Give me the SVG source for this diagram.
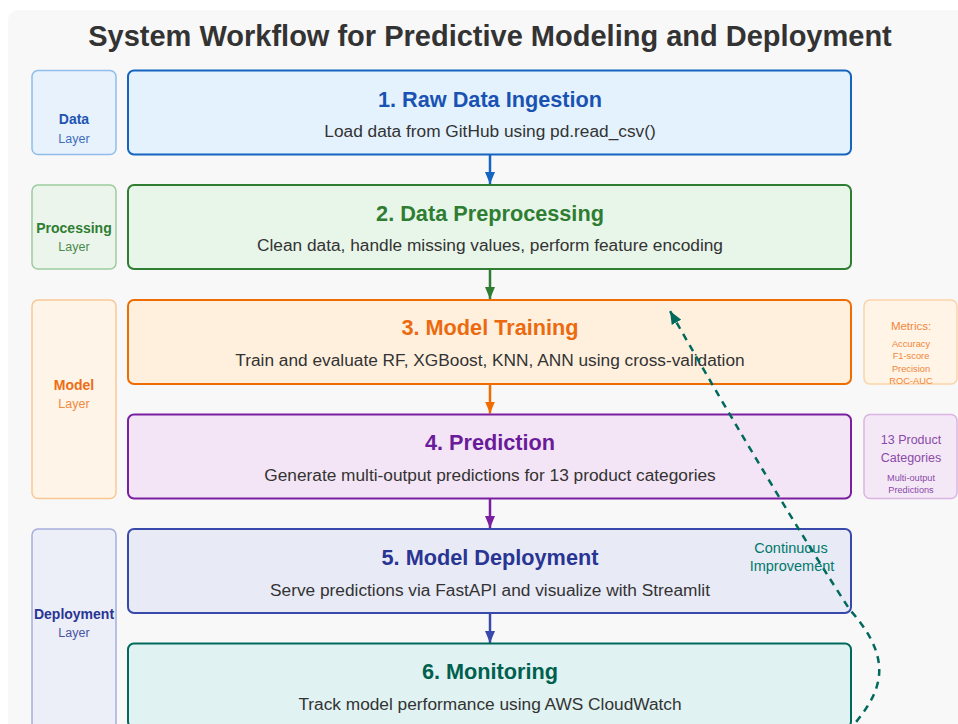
<svg xmlns="http://www.w3.org/2000/svg" width="958" height="724" viewBox="0 0 958 724">
<defs>
<style>
text{font-family:"Liberation Sans",Arial,sans-serif;text-anchor:middle}
.title{font-size:29px;font-weight:bold;fill:#333}
.bt{font-size:21.7px;font-weight:bold}
.bs{font-size:17.3px;fill:#333}
.main{stroke-width:2}
.layer{stroke-width:1.5}
.ln{font-size:14px;font-weight:bold}
.ll{font-size:12.5px}
.side{stroke-width:1.5}
.conn{stroke-width:2.5;fill:none}
</style>
<marker id="mB" viewBox="0 0 12 10" refX="12" refY="5" markerWidth="12" markerHeight="10" markerUnits="userSpaceOnUse" orient="auto"><path d="M0,0 L12,5 L0,10 z" fill="#1565c0"/></marker>
<marker id="mG" viewBox="0 0 12 10" refX="12" refY="5" markerWidth="12" markerHeight="10" markerUnits="userSpaceOnUse" orient="auto"><path d="M0,0 L12,5 L0,10 z" fill="#2e7d32"/></marker>
<marker id="mO" viewBox="0 0 12 10" refX="12" refY="5" markerWidth="12" markerHeight="10" markerUnits="userSpaceOnUse" orient="auto"><path d="M0,0 L12,5 L0,10 z" fill="#ef6c00"/></marker>
<marker id="mP" viewBox="0 0 12 10" refX="12" refY="5" markerWidth="12" markerHeight="10" markerUnits="userSpaceOnUse" orient="auto"><path d="M0,0 L12,5 L0,10 z" fill="#7b1fa2"/></marker>
<marker id="mI" viewBox="0 0 12 10" refX="12" refY="5" markerWidth="12" markerHeight="10" markerUnits="userSpaceOnUse" orient="auto"><path d="M0,0 L12,5 L0,10 z" fill="#3949ab"/></marker>
<marker id="mT" viewBox="0 0 12 10" refX="12" refY="5" markerWidth="13" markerHeight="11" markerUnits="userSpaceOnUse" orient="auto"><path d="M0,0 L12,5 L0,10 z" fill="#00695c"/></marker>
</defs>
<rect x="0" y="0" width="958" height="724" fill="#ffffff"/>
<rect x="8" y="10" width="970" height="740" rx="10" fill="#f8f8f8"/>
<text class="title" x="490" y="46">System Workflow for Predictive Modeling and Deployment</text>

<g id="layer-data">
<rect class="layer" x="32" y="70.5" width="84" height="84" rx="6" fill="#e8f2fd" stroke="#90bde9"/>
<text class="ln" x="74" y="124.3" fill="#1e55b0">Data</text>
<text class="ll" x="74" y="142.7" fill="#3f6fba">Layer</text>
</g>
<g id="layer-processing">
<rect class="layer" x="32" y="185" width="84" height="84" rx="6" fill="#ecf5ec" stroke="#9ccb9e"/>
<text class="ln" x="74" y="233.3" fill="#2e7d32">Processing</text>
<text class="ll" x="74" y="251" fill="#4a8a4d">Layer</text>
</g>
<g id="layer-model">
<rect class="layer" x="32" y="300" width="84" height="198.5" rx="6" fill="#fff4e8" stroke="#f9c795"/>
<text class="ln" x="74" y="390" fill="#ee6d12">Model</text>
<text class="ll" x="74" y="407.7" fill="#f08a40">Layer</text>
</g>
<g id="layer-deployment">
<rect class="layer" x="32" y="529" width="84" height="200" rx="6" fill="#eceef8" stroke="#a7aedc"/>
<text class="ln" x="74" y="619.3" fill="#283593">Deployment</text>
<text class="ll" x="74" y="636.7" fill="#4a55a0">Layer</text>
</g>

<g id="connectors">
<line class="conn" x1="490" y1="155" x2="490" y2="184" stroke="#1565c0" marker-end="url(#mB)"/>
<line class="conn" x1="490" y1="270" x2="490" y2="299" stroke="#2e7d32" marker-end="url(#mG)"/>
<line class="conn" x1="490" y1="385" x2="490" y2="413.5" stroke="#ef6c00" marker-end="url(#mO)"/>
<line class="conn" x1="490" y1="499" x2="490" y2="528" stroke="#7b1fa2" marker-end="url(#mP)"/>
<line class="conn" x1="490" y1="614" x2="490" y2="643" stroke="#3949ab" marker-end="url(#mI)"/>
</g>

<g id="step1">
<rect class="main" x="128" y="70.5" width="723" height="84" rx="6" fill="#e3f2fd" stroke="#1565c0"/>
<text class="bt" x="490" y="106.7" fill="#1a52b3">1. Raw Data Ingestion</text>
<text class="bs" x="490" y="136.7">Load data from GitHub using pd.read_csv()</text>
</g>
<g id="step2">
<rect class="main" x="128" y="185" width="723" height="84" rx="6" fill="#e8f5e9" stroke="#2e7d32"/>
<text class="bt" x="490" y="220.7" fill="#2e7d32">2. Data Preprocessing</text>
<text class="bs" x="490" y="250.7">Clean data, handle missing values, perform feature encoding</text>
</g>
<g id="step3">
<rect class="main" x="128" y="300" width="723" height="84" rx="6" fill="#fff0de" stroke="#ef6c00"/>
<text class="bt" x="490" y="335" fill="#ec6a0f">3. Model Training</text>
<text class="bs" x="490" y="366">Train and evaluate RF, XGBoost, KNN, ANN using cross-validation</text>
</g>
<g id="step4">
<rect class="main" x="128" y="414.5" width="723" height="84" rx="6" fill="#f3e5f5" stroke="#7b1fa2"/>
<text class="bt" x="490" y="450" fill="#6a1b9a">4. Prediction</text>
<text class="bs" x="490" y="480.7">Generate multi-output predictions for 13 product categories</text>
</g>
<g id="step5">
<rect class="main" x="128" y="529" width="723" height="84" rx="6" fill="#e8eaf6" stroke="#3949ab"/>
<text class="bt" x="490" y="565" fill="#283593">5. Model Deployment</text>
<text class="bs" x="490" y="596">Serve predictions via FastAPI and visualize with Streamlit</text>
</g>
<g id="step6">
<rect class="main" x="128" y="643.5" width="723" height="84" rx="6" fill="#e0f2f1" stroke="#00695c"/>
<text class="bt" x="490" y="679.3" fill="#00604f">6. Monitoring</text>
<text class="bs" x="490" y="710">Track model performance using AWS CloudWatch</text>
</g>

<g id="metrics">
<rect class="side" x="864" y="300" width="93" height="84" rx="6" fill="#fff4e6" stroke="#fbd3aa"/>
<text x="911" y="330" font-size="11.5" fill="#f0863a">Metrics:</text>
<text x="911" y="347" font-size="9.3" fill="#f0863a">Accuracy</text>
<text x="911" y="359.3" font-size="9.3" fill="#f0863a">F1-score</text>
<text x="911" y="371.6" font-size="9.3" fill="#f0863a">Precision</text>
<text x="911" y="384" font-size="9.3" fill="#f0863a">ROC-AUC</text>
</g>
<g id="categories">
<rect class="side" x="864" y="414.5" width="93" height="84" rx="6" fill="#f4e8f6" stroke="#d9b5e1"/>
<text x="911" y="444" font-size="12.5" fill="#8a4aa8">13 Product</text>
<text x="911" y="462.3" font-size="12.5" fill="#8a4aa8">Categories</text>
<text x="911" y="480.5" font-size="9.2" fill="#8a4aa8">Multi-output</text>
<text x="911" y="492.8" font-size="9.2" fill="#8a4aa8">Predictions</text>
</g>

<g id="feedback">
<path class="conn" d="M 848 732 C 874 700, 902 668, 850 610 Q 775 495, 670 311" stroke="#00695c" stroke-dasharray="7 6" marker-end="url(#mT)"/>
<text x="791" y="553.3" font-size="14.5" fill="#00796b">Continuous</text>
<text x="792" y="571" font-size="14.5" fill="#00796b">Improvement</text>
</g>
</svg>
